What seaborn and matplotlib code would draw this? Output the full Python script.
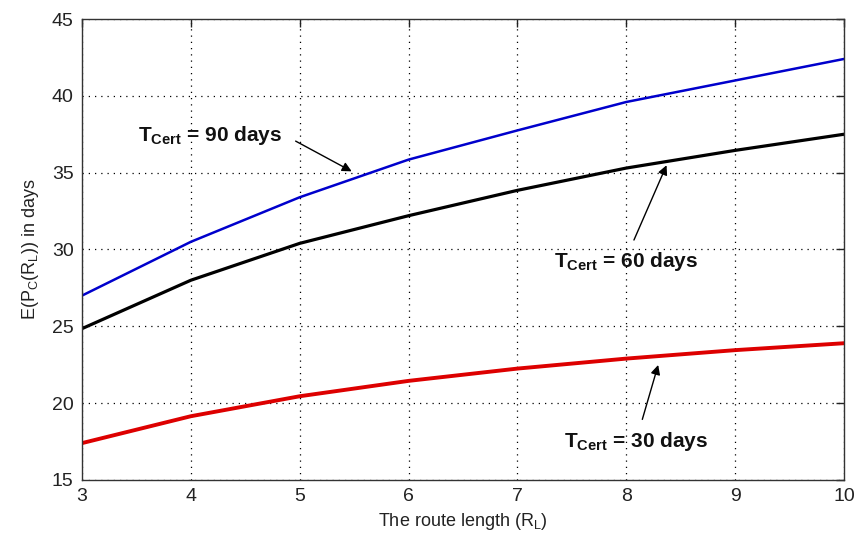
import matplotlib
matplotlib.use("Agg")
import matplotlib.pyplot as plt
import pandas as pd
import seaborn as sns

# Route length values and expected certificate-chain lifetime per T_Cert
route_length = [3, 4, 5, 6, 7, 8, 9, 10]
t90 = [27.0, 30.5, 33.4, 35.85, 37.75, 39.6, 41.0, 42.4]
t60 = [24.85, 28.0, 30.4, 32.2, 33.85, 35.3, 36.45, 37.5]
t30 = [17.4, 19.15, 20.45, 21.45, 22.25, 22.9, 23.45, 23.9]

x_ticks = [3, 4, 5, 6, 7, 8, 9, 10]
y_ticks = [15, 20, 25, 30, 35, 40, 45]

sns.set_style("white")
plt.rcParams["font.family"] = ["Liberation Sans", "DejaVu Sans"]
plt.rcParams["mathtext.fontset"] = "custom"
plt.rcParams["mathtext.rm"] = "Liberation Sans"
plt.rcParams["mathtext.it"] = "Liberation Sans:italic"
plt.rcParams["mathtext.bf"] = "Liberation Sans:bold"

df = pd.DataFrame({"R": route_length, "90": t90, "60": t60, "30": t30})

fig = plt.figure(figsize=(8.56, 5.46), dpi=100)
ax = fig.add_axes([0.0958, 0.1209, 0.8902, 0.8443])

sns.lineplot(data=df, x="R", y="90", ax=ax, color="#0000cc", linewidth=1.8)
sns.lineplot(data=df, x="R", y="60", ax=ax, color="black", linewidth=2.3)
sns.lineplot(data=df, x="R", y="30", ax=ax, color="#dd0000", linewidth=2.8)

ax.set_xlim(3, 10)
ax.set_ylim(15, 45)
ax.set_xticks(x_ticks)
ax.set_yticks(y_ticks)
ax.grid(True, linestyle=(0, (1, 4)), color="black", linewidth=0.9)
ax.tick_params(direction="in", length=6, width=1, top=True, right=True,
               labelsize=14, colors="#222222", pad=6)
for sp in ax.spines.values():
    sp.set_color("#333333")
    sp.set_linewidth(1.0)

ax.set_xlabel(r"The route length (R$_{\mathrm{L}}$)", fontsize=13, color="#222222", labelpad=4)
ax.set_ylabel(r"E(P$_{\mathrm{C}}$(R$_{\mathrm{L}}$)) in days", fontsize=13, color="#222222", labelpad=8)

arrow = dict(arrowstyle="-|>", color="black", lw=1.0, mutation_scale=14)
label_kw = dict(fontsize=15, fontweight="bold", ha="left", va="center", color="#111111")
ax.text(3.51, 37.4, r"T$_{\mathbf{Cert}}$ = 90 days", **label_kw)
ax.annotate("", xy=(5.5, 35.0), xytext=(4.94, 37.14), arrowprops=arrow)
ax.text(7.34, 29.2, r"T$_{\mathbf{Cert}}$ = 60 days", **label_kw)
ax.annotate("", xy=(8.38, 35.65), xytext=(8.06, 30.45), arrowprops=arrow)
ax.text(7.43, 17.5, r"T$_{\mathbf{Cert}}$ = 30 days", **label_kw)
ax.annotate("", xy=(8.30, 22.66), xytext=(8.14, 18.77), arrowprops=arrow)

fig.savefig("out.png", dpi=100)
